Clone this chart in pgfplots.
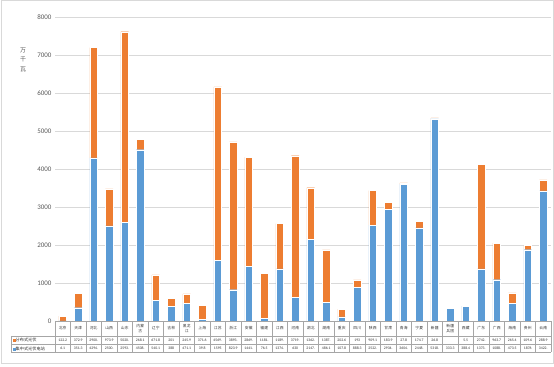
\documentclass[border=0pt]{standalone}
\usepackage{pgfplots}
\pgfplotsset{compat=1.18}
\usepackage{fontspec}
\setmainfont{Carlito}
\newfontfamily\cjk{Noto Sans CJK SC}
\definecolor{orng}{HTML}{ED7D31}
\definecolor{blu}{HTML}{5B9BD5}
\definecolor{gridc}{HTML}{D9D9D9}
\definecolor{txt}{HTML}{595959}
\definecolor{tbl}{HTML}{A6A6A6}
\begin{document}
\begin{tikzpicture}
\begin{axis}[
  at={(55bp,46bp)}, anchor=south west,
  scale only axis, width=496bp, height=304bp,
  ybar stacked, bar width=7.6bp,
  xmin=-0.5, xmax=31.5, ymin=0, ymax=8000,
  clip=false,
  axis line style={draw=none},
  major tick length=0pt,
  ymajorgrids, grid style={gridc, line width=0.6bp},
  ytick={0,1000,...,8000},
  yticklabel style={font=\fontsize{7}{8}\selectfont, text=txt},
  /pgf/number format/assume math mode=true,
  /pgf/number format/1000 sep={},
  ylabel={万\\千\\瓦},
  ylabel style={font=\cjk\fontsize{6}{9.5}\selectfont, align=center, rotate=-90,
    at={(axis description cs:-0.0645,0.86)}, anchor=center, text=txt},
  xtick={0,...,31},
  xticklabels={北京,天津,河北,山西,山东,{内蒙\\古},辽宁,吉林,{黑龙\\江},上海,江苏,浙江,安徽,福建,江西,河南,湖北,湖南,重庆,四川,陕西,甘肃,青海,宁夏,新疆,{新疆\\兵团},西藏,广东,广西,海南,贵州,云南},
  xticklabel style={font=\cjk\fontsize{3.8}{4.6}\selectfont, align=center, anchor=center, yshift=-7.5bp, text=black!80},
  extra x ticks={0,...,31},
  extra x tick labels={{122.2\\6.1},{372.9\\351.3},{2900.\\4294.},{973.9\\2500.},{5020.\\2593.},{268.1\\4508.},{671.8\\540.1},{201\\388},{245.9\\471.1},{371.6\\39.8},{4569.\\1595},{3893.\\823.9},{2869.\\1441.},{1181.\\76.5},{1189.\\1374.},{3719.\\630},{1362.\\2147.},{1387.\\486.1},{202.6\\107.8},{193\\888.3},{909.1\\2522.},{183.9\\2934.},{27.8\\3604.},{174.7\\2448.},{26.8\\5318.},{\phantom{0}\\333.3},{5.5\\388.4},{2742.\\1373.},{963.7\\1088.},{265.4\\473.5},{109.6\\1876},{288.9\\3422.}},
  extra x tick style={grid=none, xticklabel style={font=\fontsize{3.8}{8}\selectfont, yshift=-15.5bp}},
  legend style={at={(axis description cs:-0.0847,-0.0493)}, anchor=north west,
    draw=none, fill=none, inner sep=0pt, outer sep=0pt,
    font=\cjk\fontsize{4.2}{5}\selectfont, row sep=0pt,
    nodes={inner sep=0.6bp, text height=4.6bp, text depth=3.4bp, text=black!80}},
  legend cell align=left,
  reverse legend,
]
\addplot[fill=blu, draw=white, line width=0.3bp,
  legend image code/.code={\fill[blu] (0bp,-0.3bp) rectangle (1.8bp,1.5bp);}]
  coordinates {(0,6.1) (1,351.3) (2,4294) (3,2500) (4,2593) (5,4508) (6,540.1) (7,388) (8,471.1) (9,39.8) (10,1595) (11,823.9) (12,1441) (13,76.5) (14,1374) (15,630) (16,2147) (17,486.1) (18,107.8) (19,888.3) (20,2522) (21,2934) (22,3604) (23,2448) (24,5318) (25,333.3) (26,388.4) (27,1373) (28,1088) (29,473.5) (30,1876) (31,3422)};
\addplot[fill=orng, draw=white, line width=0.3bp,
  legend image code/.code={\fill[orng] (0bp,-0.3bp) rectangle (1.8bp,1.5bp);}]
  coordinates {(0,122.2) (1,372.9) (2,2900) (3,973.9) (4,5020) (5,268.1) (6,671.8) (7,201) (8,245.9) (9,371.6) (10,4569) (11,3893) (12,2869) (13,1181) (14,1189) (15,3719) (16,1362) (17,1387) (18,202.6) (19,193) (20,909.1) (21,183.9) (22,27.8) (23,174.7) (24,26.8) (25,0) (26,5.5) (27,2742) (28,963.7) (29,265.4) (30,109.6) (31,288.9)};
\legend{集中式光伏电站,分布式光伏}
\end{axis}
% data table grid
\begin{scope}[tbl, line width=0.4bp]
\draw (55bp,46bp) -- (551bp,46bp);
\draw (11bp,31bp) -- (551bp,31bp);
\draw (11bp,23bp) -- (551bp,23bp);
\draw (11bp,15bp) -- (551bp,15bp);
\draw (11bp,31bp) -- (11bp,15bp);
\foreach \k in {0,...,32} \draw ({55bp+15.5bp*\k},46bp) -- ({55bp+15.5bp*\k},15bp);
\end{scope}
\draw[gridc, line width=0.8bp] (1bp,4bp) rectangle (553bp,366.5bp);
\pgfresetboundingbox
\useasboundingbox (0,0) rectangle (554bp,367bp);
\end{tikzpicture}
\end{document}
